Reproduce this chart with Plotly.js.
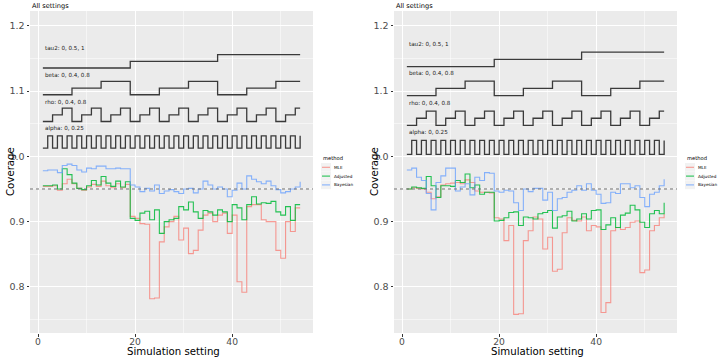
<!DOCTYPE html>
<html>
<head>
<meta charset="utf-8">
<script src="https://cdn.plot.ly/plotly-3.0.1.min.js"></script>
<style>
  html, body { margin: 0; padding: 0; background: #ffffff; }
  #chart { width: 718px; height: 358px; }
</style>
</head>
<body>
<div id="chart"></div>
<script>
// Simulation settings: full factorial design, tau2 outermost, alpha innermost.
const tau2Levels = [0, 0.5, 1];
const betaLevels = [0, 0.4, 0.8];
const rhoLevels = [0, 0.4, 0.8];
const alphaLevels = [0, 0.25];

const methods = ['MLE', 'Adjusted', 'Bayesian'];
const targetCoverage = 0.95;

// Coverage per setting, first run (left panel)
const mleLeft = [
  0.954, 0.954, 0.955, 0.948, 0.958, 0.965, 0.958, 0.951, 0.948, 0.953,
  0.957, 0.954, 0.962, 0.955, 0.952, 0.958, 0.952, 0.957,
  0.908, 0.905, 0.897, 0.896, 0.782, 0.783, 0.869, 0.892, 0.900, 0.908,
  0.872, 0.890, 0.851, 0.856, 0.887, 0.910, 0.913, 0.900, 0.910, 0.913,
  0.882, 0.910, 0.808, 0.792, 0.923, 0.926, 0.926, 0.903, 0.900, 0.900,
  0.856, 0.844, 0.900, 0.885, 0.921, 0.921
];
const adjustedLeft = [
  0.955, 0.955, 0.956, 0.950, 0.981, 0.972, 0.959, 0.951, 0.949, 0.955,
  0.963, 0.956, 0.969, 0.959, 0.954, 0.962, 0.953, 0.961,
  0.905, 0.902, 0.913, 0.916, 0.903, 0.918, 0.882, 0.900, 0.903, 0.905,
  0.923, 0.918, 0.930, 0.915, 0.905, 0.917, 0.915, 0.910, 0.918, 0.915,
  0.900, 0.926, 0.921, 0.903, 0.926, 0.938, 0.927, 0.929, 0.928, 0.931,
  0.915, 0.910, 0.923, 0.902, 0.926, 0.926
];
const bayesianLeft = [
  0.978, 0.979, 0.979, 0.975, 0.986, 0.988, 0.986, 0.979, 0.976, 0.982,
  0.981, 0.985, 0.985, 0.981, 0.981, 0.982, 0.981, 0.981,
  0.956, 0.953, 0.946, 0.951, 0.947, 0.956, 0.943, 0.947, 0.949, 0.946,
  0.943, 0.950, 0.951, 0.944, 0.950, 0.962, 0.956, 0.950, 0.953, 0.950,
  0.938, 0.948, 0.959, 0.950, 0.970, 0.965, 0.961, 0.958, 0.962, 0.955,
  0.949, 0.944, 0.946, 0.950, 0.953, 0.961
];

// Coverage per setting, second run (right panel)
const mleRight = [
  0.950, 0.952, 0.951, 0.950, 0.945, 0.935, 0.938, 0.956, 0.958, 0.959,
  0.960, 0.958, 0.964, 0.960, 0.947, 0.945, 0.945, 0.944,
  0.906, 0.904, 0.871, 0.894, 0.758, 0.759, 0.871, 0.886, 0.907, 0.904,
  0.858, 0.876, 0.824, 0.827, 0.883, 0.906, 0.902, 0.901, 0.907, 0.886,
  0.894, 0.892, 0.761, 0.776, 0.886, 0.891, 0.888, 0.891, 0.899, 0.901,
  0.822, 0.826, 0.886, 0.894, 0.906, 0.912
];
const adjustedRight = [
  0.950, 0.953, 0.952, 0.951, 0.969, 0.955, 0.937, 0.955, 0.955, 0.954,
  0.963, 0.960, 0.973, 0.952, 0.956, 0.942, 0.945, 0.945,
  0.901, 0.902, 0.906, 0.914, 0.915, 0.894, 0.907, 0.906, 0.904, 0.912,
  0.914, 0.917, 0.890, 0.907, 0.909, 0.916, 0.901, 0.904, 0.912, 0.904,
  0.917, 0.918, 0.888, 0.895, 0.906, 0.891, 0.910, 0.913, 0.925, 0.918,
  0.899, 0.891, 0.912, 0.917, 0.912, 0.929
];
const bayesianRight = [
  0.979, 0.982, 0.968, 0.963, 0.943, 0.918, 0.960, 0.970, 0.982, 0.982,
  0.947, 0.953, 0.958, 0.941, 0.968, 0.963, 0.975, 0.974,
  0.947, 0.945, 0.948, 0.947, 0.929, 0.917, 0.950, 0.946, 0.951, 0.951,
  0.933, 0.945, 0.917, 0.935, 0.937, 0.945, 0.948, 0.955, 0.948, 0.958,
  0.948, 0.942, 0.928, 0.929, 0.945, 0.943, 0.958, 0.958, 0.952, 0.955,
  0.937, 0.923, 0.942, 0.945, 0.955, 0.965
];

// Expand the design into one row per setting (level indices per parameter)
const design = { tau2: [], beta: [], rho: [], alpha: [] };
tau2Levels.forEach((_, ti) => betaLevels.forEach((_, bi) =>
  rhoLevels.forEach((_, ri) => alphaLevels.forEach((_, ai) => {
    design.tau2.push(ti); design.beta.push(bi);
    design.rho.push(ri); design.alpha.push(ai);
  }))));
const settingIds = design.tau2.map((_, i) => i + 1);

const loopParams = [
  { key: 'tau2', levels: tau2Levels },
  { key: 'beta', levels: betaLevels },
  { key: 'rho', levels: rhoLevels },
  { key: 'alpha', levels: alphaLevels }
];

const methodStyle = {
  MLE:      { color: 'rgba(248,118,109,0.72)' },
  Adjusted: { color: 'rgba(0,186,56,0.85)' },
  Bayesian: { color: 'rgba(97,156,255,0.75)' }
};

const W = 718, H = 358;
const px = v => v / W;
const py = v => 1 - v / H;

const panels = [
  {
    xa: 'x', ya: 'y', left: 30, right: 313, legendX: 321,
    series: { MLE: mleLeft, Adjusted: adjustedLeft, Bayesian: bayesianLeft },
    loopBase: { tau2: 1.1352, beta: 1.0943, rho: 1.0533, alpha: 1.0126 },
    loopStep: { tau2: 0.0102, beta: 0.0102, rho: 0.0103, alpha: 0.0188 },
    labelGap: 0.030
  },
  {
    xa: 'x2', ya: 'y2', left: 394, right: 677, legendX: 685,
    series: { MLE: mleRight, Adjusted: adjustedRight, Bayesian: bayesianRight },
    loopBase: { tau2: 1.1374, beta: 1.0930, rho: 1.0473, alpha: 1.0030 },
    loopStep: { tau2: 0.0110, beta: 0.0110, rho: 0.0110, alpha: 0.0214 },
    labelGap: 0.034
  }
];

const traces = [];
const annotations = [];
const shapes = [];
const fontFamily = 'DejaVu Sans, sans-serif';

panels.forEach(p => {
  // nested loop step lines
  loopParams.forEach(lp => {
    traces.push({
      type: 'scatter', mode: 'lines', xaxis: p.xa, yaxis: p.ya,
      x: settingIds,
      y: design[lp.key].map(li => p.loopBase[lp.key] + p.loopStep[lp.key] * li),
      line: { shape: 'hv', color: '#3a3a3a', width: 1.3 },
      hoverinfo: 'skip', showlegend: false
    });
    annotations.push({
      xref: p.xa, yref: p.ya, x: settingIds[0], y: p.loopBase[lp.key] + p.labelGap,
      text: lp.key + ': ' + lp.levels.join(', '), showarrow: false,
      xanchor: 'left', yanchor: 'middle',
      font: { family: fontFamily, size: 5.6, color: '#1a1a1a' }
    });
  });

  // coverage step lines
  methods.forEach(m => {
    traces.push({
      type: 'scatter', mode: 'lines', xaxis: p.xa, yaxis: p.ya,
      x: settingIds, y: p.series[m], name: m,
      line: { shape: 'hv', color: methodStyle[m].color, width: 1.1 },
      showlegend: false
    });
  });

  // nominal coverage reference
  shapes.push({
    type: 'line', xref: p.xa + ' domain', yref: p.ya, x0: 0, x1: 1,
    y0: targetCoverage, y1: targetCoverage,
    line: { color: '#707070', width: 1, dash: 'dot' }, layer: 'above'
  });

  // panel title
  annotations.push({
    xref: 'paper', yref: 'paper', x: px(p.left), y: py(5.5), text: 'All settings',
    showarrow: false, xanchor: 'left', yanchor: 'middle',
    font: { family: fontFamily, size: 6.6, color: '#000' }
  });
  // axis titles
  annotations.push({
    xref: 'paper', yref: 'paper', x: px((p.left + p.right) / 2 + 2), y: py(351.5),
    text: 'Simulation setting', showarrow: false, xanchor: 'center', yanchor: 'middle',
    font: { family: fontFamily, size: 10.2, color: '#000' }
  });
  annotations.push({
    xref: 'paper', yref: 'paper', x: px(p.left - 20), y: py(172),
    text: 'Coverage', showarrow: false, textangle: -90, xanchor: 'center', yanchor: 'middle',
    font: { family: fontFamily, size: 10.2, color: '#000' }
  });

  // legend
  const lx = p.legendX;
  annotations.push({
    xref: 'paper', yref: 'paper', x: px(lx), y: py(157.5), text: 'method',
    showarrow: false, xanchor: 'left', yanchor: 'middle',
    font: { family: fontFamily, size: 5.2, color: '#000' }
  });
  methods.forEach((m, i) => {
    const cy = 167.3 + i * 8.8;
    shapes.push({
      type: 'rect', xref: 'paper', yref: 'paper',
      x0: px(lx), x1: px(lx + 10), y0: py(cy - 4.3), y1: py(cy + 4.3),
      fillcolor: '#f2f2f2', line: { width: 0 }
    });
    shapes.push({
      type: 'line', xref: 'paper', yref: 'paper',
      x0: px(lx + 1), x1: px(lx + 9), y0: py(cy), y1: py(cy),
      line: { color: methodStyle[m].color, width: 1.1 }
    });
    annotations.push({
      xref: 'paper', yref: 'paper', x: px(lx + 11), y: py(cy), text: m,
      showarrow: false, xanchor: 'left', yanchor: 'middle',
      font: { family: fontFamily, size: 4.2, color: '#000' }
    });
  });
});

function xAxis(p, anchor) {
  return {
    domain: [px(p.left), px(p.right)], range: [-1.65, 56.65], anchor: anchor,
    tick0: 0, dtick: 20, showgrid: true, gridcolor: '#ffffff', gridwidth: 1,
    minor: { dtick: 10, showgrid: true, gridcolor: '#ffffff', gridwidth: 0.5, ticks: '' },
    zeroline: false, showline: false, ticks: 'outside', ticklen: 2.5, tickwidth: 1,
    ticklabelstandoff: -3,
    tickcolor: '#333333', tickfont: { family: fontFamily, size: 9.2, color: '#4d4d4d' },
    fixedrange: true
  };
}
function yAxis(anchor) {
  return {
    domain: [py(333), py(11)], range: [0.7295, 1.2225], anchor: anchor,
    tick0: 0, dtick: 0.1, tickformat: '.1f',
    showgrid: true, gridcolor: '#ffffff', gridwidth: 1,
    minor: { dtick: 0.05, showgrid: true, gridcolor: '#ffffff', gridwidth: 0.5, ticks: '' },
    zeroline: false, showline: false, ticks: 'outside', ticklen: 2.5, tickwidth: 1,
    tickcolor: '#333333', tickfont: { family: fontFamily, size: 9.5, color: '#4d4d4d' },
    fixedrange: true
  };
}

const layout = {
  width: W, height: H,
  margin: { l: 0, r: 0, t: 0, b: 0 },
  paper_bgcolor: '#ffffff', plot_bgcolor: '#ebebeb',
  showlegend: false,
  xaxis: xAxis(panels[0], 'y'),
  yaxis: yAxis('x'),
  xaxis2: xAxis(panels[1], 'y2'),
  yaxis2: yAxis('x2'),
  shapes: shapes,
  annotations: annotations,
  font: { family: fontFamily }
};

Plotly.newPlot('chart', traces, layout, { staticPlot: true, displayModeBar: false });
</script>
</body>
</html>
